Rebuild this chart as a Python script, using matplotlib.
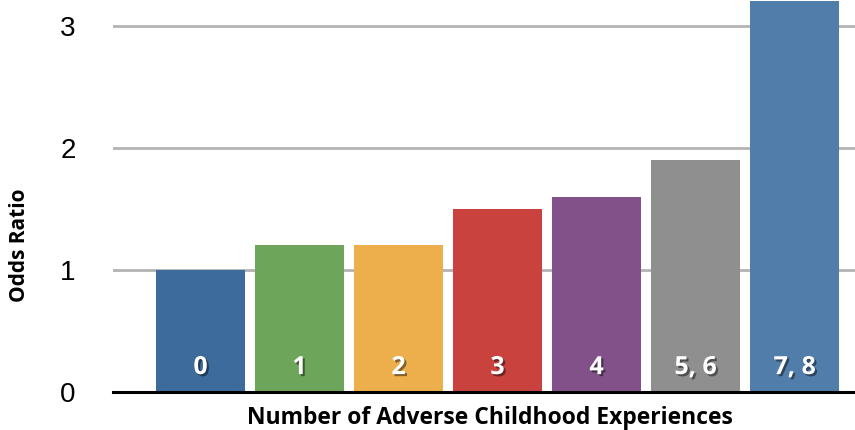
import matplotlib.pyplot as plt
import matplotlib.patheffects as pe

categories = ['0', '1', '2', '3', '4', '5, 6', '7, 8']
odds_ratio = [1.0, 1.2, 1.2, 1.5, 1.6, 1.9, 3.2]
colors = ['#3D6C9C', '#6DA55A', '#EDAF4B', '#C9423D', '#835189', '#8E8F8E', '#517DAA']

fig = plt.figure(figsize=(8.55, 4.3), dpi=100)
ax = fig.add_axes([113 / 855, 38 / 430, 742 / 855, 392 / 430])

x = range(len(categories))
ax.bar(x, odds_ratio, width=0.9, color=colors, zorder=3)

# labels inside the bars, white with a soft shadow
shadow = [pe.SimplePatchShadow(offset=(1.5, -1.5), shadow_rgbFace='black', alpha=0.45),
          pe.Normal()]
for i, lab in enumerate(categories):
    ax.text(i, 0.2, lab, ha='center', va='center', color='white',
            fontsize=18, fontweight='bold', family='Open Sans',
            path_effects=shadow, zorder=4)

ax.set_xlim(-0.884, 6.61)
ax.set_ylim(0, 3.21)
ax.set_yticks([0, 1, 2, 3])
ax.set_yticklabels(['0', '1', '2', '3'], fontsize=20, family='Liberation Sans')
ax.tick_params(axis='y', length=0, pad=27)
ax.set_xticks([])

for v in [1, 2, 3]:
    ax.axhline(v, color='#B3B3B3', lw=2, zorder=1)

for s in ['top', 'right', 'left']:
    ax.spines[s].set_visible(False)
ax.spines['bottom'].set_linewidth(2.2)
ax.spines['bottom'].set_color('black')
ax.spines['bottom'].set_zorder(5)

fig.text(20 / 855, 1 - 245 / 430, 'Odds Ratio', rotation=90, ha='center', va='center',
         fontsize=15, fontweight='bold', family='Open Sans')
fig.text(490 / 855, 1 - 418 / 430, 'Number of Adverse Childhood Experiences', ha='center',
         va='center', fontsize=16.5, fontweight='bold', family='Open Sans')

fig.savefig('out.png', dpi=100)
